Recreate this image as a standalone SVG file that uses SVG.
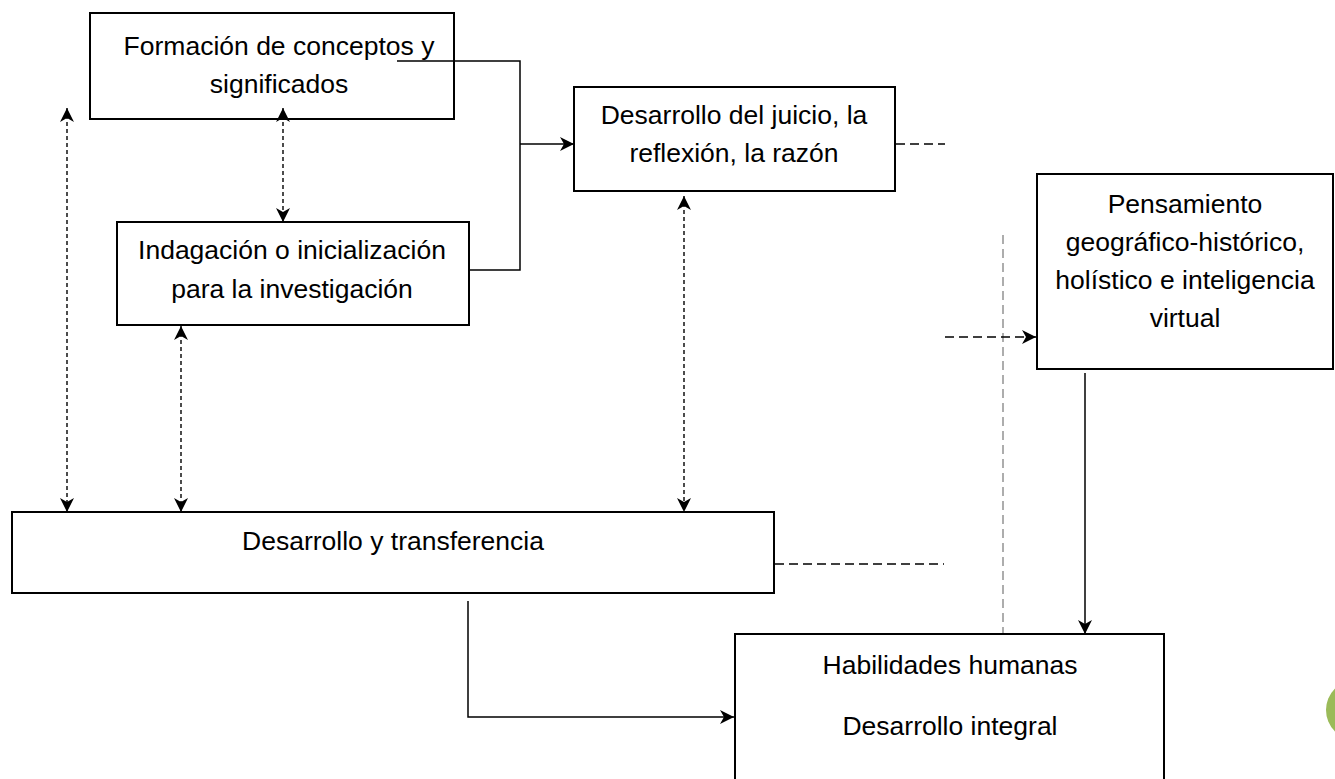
<svg xmlns="http://www.w3.org/2000/svg" width="1335" height="779" viewBox="0 0 1335 779">
<style>
.box{fill:#fff;stroke:#000;stroke-width:2}
.t{font-family:"Liberation Sans",Arial,sans-serif;font-size:26.5px;fill:#000;text-anchor:middle}
.ln{fill:none;stroke:#000;stroke-width:1.5}
.dl{fill:none;stroke:#000;stroke-width:1.4;stroke-dasharray:4 3}
.dd{fill:none;stroke:#000;stroke-width:1.4;stroke-dasharray:9 5}
.gd{fill:none;stroke:#999;stroke-width:1.6;stroke-dasharray:9 5}
</style>
<defs>
<marker id="ah" viewBox="0 0 14 14" refX="14" refY="7" markerWidth="14" markerHeight="14" markerUnits="userSpaceOnUse" orient="auto-start-reverse">
<path d="M0,0 L14,7 L0,14 L4,7 Z" fill="#000"/>
</marker>
</defs>
<rect width="1335" height="779" fill="#fff"/>
<g id="n-formacion">
<rect class="box" x="90" y="13" width="364" height="106"/>
<text class="t" x="279" y="55">Formación de conceptos y</text>
<text class="t" x="279" y="93">significados</text>
</g>
<g id="n-juicio">
<rect class="box" x="574" y="87" width="321" height="104"/>
<text class="t" x="734" y="124">Desarrollo del juicio, la</text>
<text class="t" x="734" y="162">reflexión, la razón</text>
</g>
<g id="n-pensamiento">
<rect class="box" x="1037" y="174" width="296" height="195"/>
<text class="t" x="1185" y="213">Pensamiento</text>
<text class="t" x="1185" y="251">geográfico-histórico,</text>
<text class="t" x="1185" y="289">holístico e inteligencia</text>
<text class="t" x="1185" y="327">virtual</text>
</g>
<g id="n-indagacion">
<rect class="box" x="117" y="222" width="352" height="103"/>
<text class="t" x="292" y="259">Indagación o inicialización</text>
<text class="t" x="292" y="298">para la investigación</text>
</g>
<g id="n-transferencia">
<rect class="box" x="12" y="512" width="762" height="81"/>
<text class="t" x="393" y="550">Desarrollo y transferencia</text>
</g>
<g id="n-habilidades">
<rect class="box" x="735" y="634" width="429" height="160"/>
<text class="t" x="950" y="674">Habilidades humanas</text>
<text class="t" x="950" y="735">Desarrollo integral</text>
</g>
<g id="connectors">
<polyline class="ln" points="397,61 520,61 520,270 470,270"/>
<line class="ln" x1="520" y1="144" x2="574" y2="144" marker-end="url(#ah)"/>
<line class="dd" x1="896" y1="144" x2="945" y2="144"/>
<line class="gd" x1="1003" y1="235" x2="1003" y2="633"/>
<line class="dd" x1="945" y1="337" x2="1036" y2="337" marker-end="url(#ah)"/>
<line class="dd" x1="775" y1="564" x2="944" y2="564"/>
<line class="dl" x1="67" y1="108" x2="67" y2="512" marker-start="url(#ah)" marker-end="url(#ah)"/>
<line class="dl" x1="181" y1="326" x2="181" y2="512" marker-start="url(#ah)" marker-end="url(#ah)"/>
<line class="dl" x1="283" y1="108" x2="283" y2="222" marker-start="url(#ah)" marker-end="url(#ah)"/>
<line class="dl" x1="684" y1="196" x2="684" y2="512" marker-start="url(#ah)" marker-end="url(#ah)"/>
<polyline class="ln" points="468,601 468,717 734,717" marker-end="url(#ah)"/>
<line class="ln" x1="1085" y1="373" x2="1085" y2="634" marker-end="url(#ah)"/>
</g>
<circle cx="1356" cy="710" r="30" fill="#9BBB59"/>
</svg>
